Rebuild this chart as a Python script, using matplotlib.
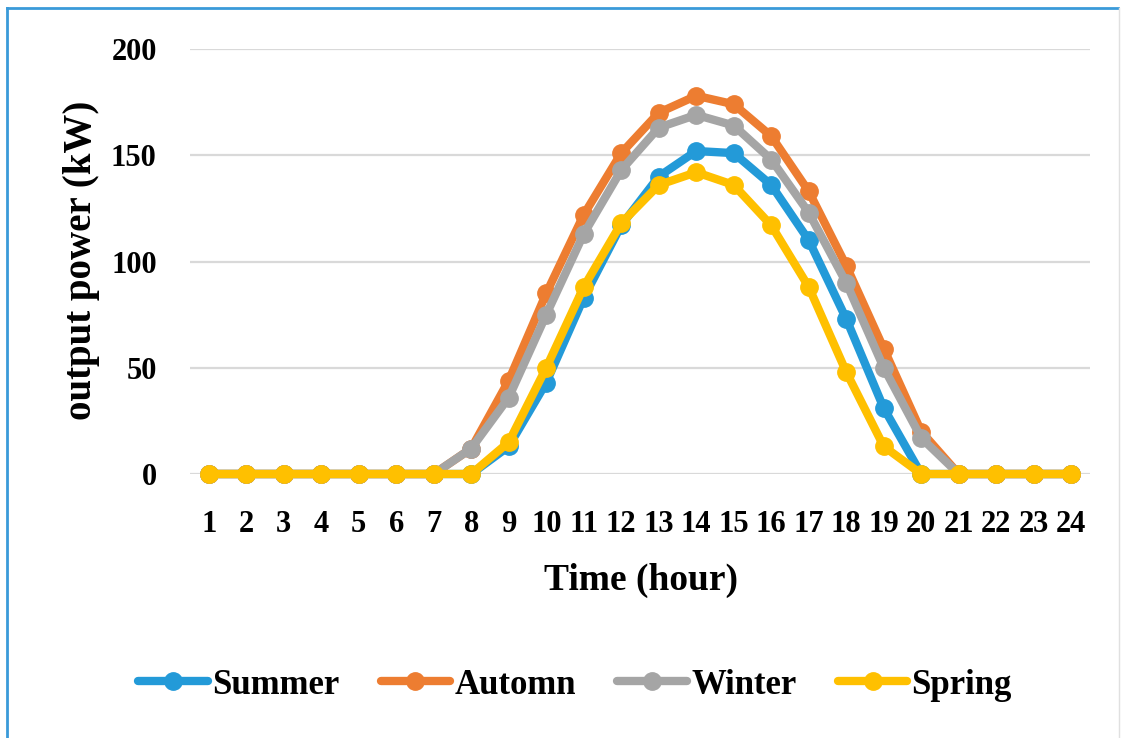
import matplotlib
matplotlib.use("Agg")
import matplotlib.pyplot as plt
from matplotlib.lines import Line2D

hours = list(range(1, 25))
hour_labels = [str(h) for h in hours]
summer = [0, 0, 0, 0, 0, 0, 0, 0, 13, 43, 83, 117, 140, 152, 151, 136, 110, 73, 31, 0, 0, 0, 0, 0]
autumn = [0, 0, 0, 0, 0, 0, 0, 12, 44, 85, 122, 151, 170, 178, 174, 159, 133, 98, 59, 20, 0, 0, 0, 0]
winter = [0, 0, 0, 0, 0, 0, 0, 12, 36, 75, 113, 143, 163, 169, 164, 148, 123, 90, 50, 17, 0, 0, 0, 0]
spring = [0, 0, 0, 0, 0, 0, 0, 0, 15, 50, 88, 118, 136, 142, 136, 117, 88, 48, 13, 0, 0, 0, 0, 0]
series_names = ["Summer", "Automn", "Winter", "Spring"]
series_values = [summer, autumn, winter, spring]
colors = ["#239AD8", "#ED7D31", "#A5A5A5", "#FFC000"]
yticks = [0, 50, 100, 150, 200]

plt.rcParams['font.family'] = ['Liberation Serif', 'DejaVu Serif']
plt.rcParams['font.weight'] = 'bold'

fig = plt.figure(figsize=(11.25, 7.38), dpi=100)
ax = fig.add_axes([190/1125, 1-474/738, 900/1125, 425/738])

for name, vals, c in zip(series_names, series_values, colors):
    ax.plot(hours, vals, color=c, lw=6, marker='o', markersize=12.5,
            label=name, clip_on=False, solid_capstyle='round')

ax.set_xlim(0.5, 24.5)
ax.set_ylim(0, 200)
ax.set_yticks(yticks)
ax.set_yticklabels([str(v) for v in yticks])
ax.set_xticks(hours)
ax.set_xticklabels(hour_labels)
ax.tick_params(axis='both', length=0, labelsize=22)
ax.tick_params(axis='y', pad=24)
ax.tick_params(axis='x', pad=26)
for s in ax.spines.values():
    s.set_visible(False)
ax.grid(axis='y', color='#D9D9D9', lw=1.6)
ax.set_axisbelow(True)

fig.text(641/1125, 1-580/738, "Time (hour)", ha='center', va='center',
         fontsize=27, fontweight='bold')
fig.text(82/1125, 1-260/738, "output power (kW)", ha='center', va='center',
         rotation=90, fontsize=28, fontweight='bold')

fig.legend(loc='center', bbox_to_anchor=(575/1125, 1-685/738), ncol=4,
           frameon=False, fontsize=25, handlelength=2.0, handletextpad=0.12,
           columnspacing=1.2, markerscale=1.0)

# figure border
fig.add_artist(Line2D([7/1125, 7/1125], [0, 1-8/738], color='#3A9AD9', lw=2,
                      transform=fig.transFigure))
fig.add_artist(Line2D([7/1125, 1118/1125], [1-8/738, 1-8/738], color='#3A9AD9', lw=2,
                      transform=fig.transFigure))
fig.add_artist(Line2D([1119/1125, 1119/1125], [0, 1-8/738], color='#E0E0E0', lw=1,
                      transform=fig.transFigure))

fig.savefig("out.png", dpi=100)
